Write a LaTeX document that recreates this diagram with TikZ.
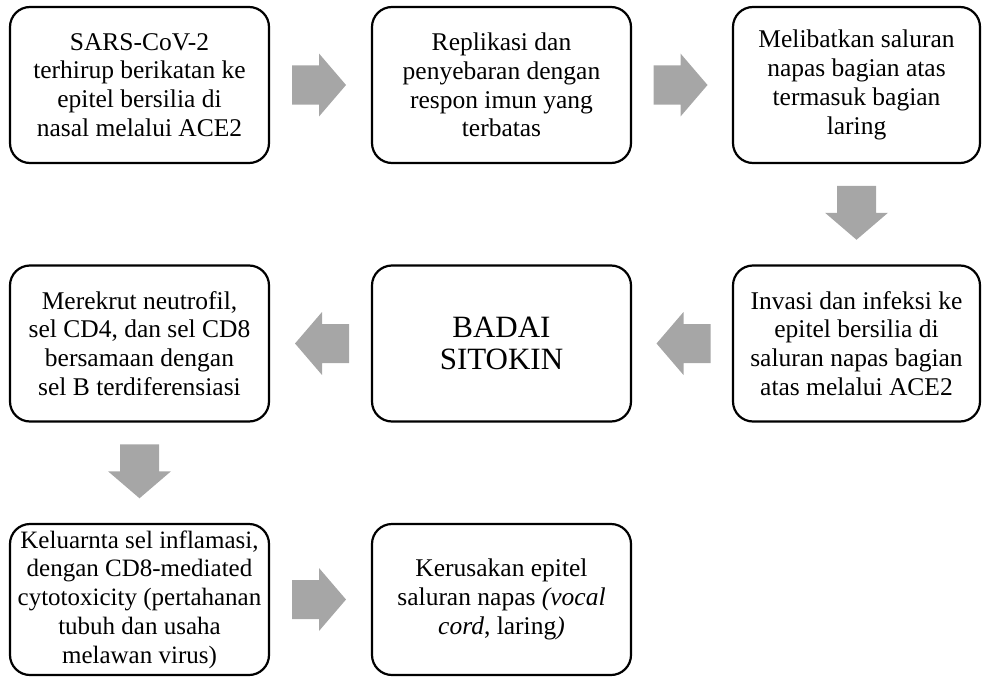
\documentclass[tikz,border=0pt]{standalone}
\usepackage{fontspec}
\setmainfont{Liberation Serif}
\usetikzlibrary{calc}
\definecolor{arrowgray}{HTML}{A6A6A6}
\begin{document}
\begin{tikzpicture}[x=1pt,y=1pt,
  box/.style={draw=black, line width=2.2pt, rounded corners=20pt, align=center,
    minimum width=259pt, minimum height=156pt, inner sep=0pt,
    font=\fontsize{25.5}{28.75}\selectfont},
  pics/blockarr/.style={code={
    \fill[arrowgray] (-27,-#1) -- (0,-#1) -- (0,-31.5) -- (27,0) -- (0,31.5) -- (0,#1) -- (-27,#1) -- cycle;}}
]
\useasboundingbox (0,0) rectangle (982,-677);
% row 1
\node[box] (b1) at (139.5,-85) {SARS-CoV-2\\terhirup berikatan ke\\epitel bersilia di\\nasal melalui ACE2};
\node[box] (b2) at (501.5,-85) {Replikasi dan\\penyebaran dengan\\respon imun yang\\terbatas};
\node[box, minimum width=247pt] (b3) at (856.5,-85) {Melibatkan saluran\\napas bagian atas\\termasuk bagian\\laring};
% row 2
\node[box] (b4) at (139.5,-343.5) {Merekrut neutrofil,\\sel CD4, dan sel CD8\\bersamaan dengan\\sel B terdiferensiasi};
\node[box, font=\fontsize{31}{32}\selectfont] (b5) at (501.5,-343.5) {BADAI\\SITOKIN};
\node[box, minimum width=247pt] (b6) at (856.5,-343.5) {Invasi dan infeksi ke\\epitel bersilia di\\saluran napas bagian\\atas melalui ACE2};
% row 3
\node[box, minimum height=151pt, font=\fontsize{25}{28.75}\selectfont] (b7) at (139.5,-599.5) {Keluarnta sel inflamasi,\\dengan CD8-mediated\\cytotoxicity (pertahanan\\tubuh dan usaha\\melawan virus)};
\node[box, minimum height=151pt] (b8) at (501.5,-599.5) {Kerusakan epitel\\saluran napas \textit{(vocal}\\\textit{cord}, laring\textit{)}};
% block arrows
\pic at ($(b1.east)!0.5!(b2.west)+(-1.5,0)$) {blockarr=19.5};
\pic at ($(b2.east)!0.5!(b3.west)+(-1.5,0)$) {blockarr=19.5};
\pic[rotate=-90] at ($(b3.south)!0.5!(b6.north)+(0,1.5)$) {blockarr=19.5};
\pic[rotate=180] at ($(b6.west)!0.5!(b5.east)+(1.5,0)$) {blockarr=19.5};
\pic[rotate=180] at ($(b5.west)!0.5!(b4.east)+(1.5,0)$) {blockarr=19.5};
\pic[rotate=-90] at ($(b4.south)!0.5!(b7.north)+(0,1.5)$) {blockarr=19.5};
\pic at ($(b7.east)!0.5!(b8.west)+(-1.5,0)$) {blockarr=19.5};
\end{tikzpicture}
\end{document}
